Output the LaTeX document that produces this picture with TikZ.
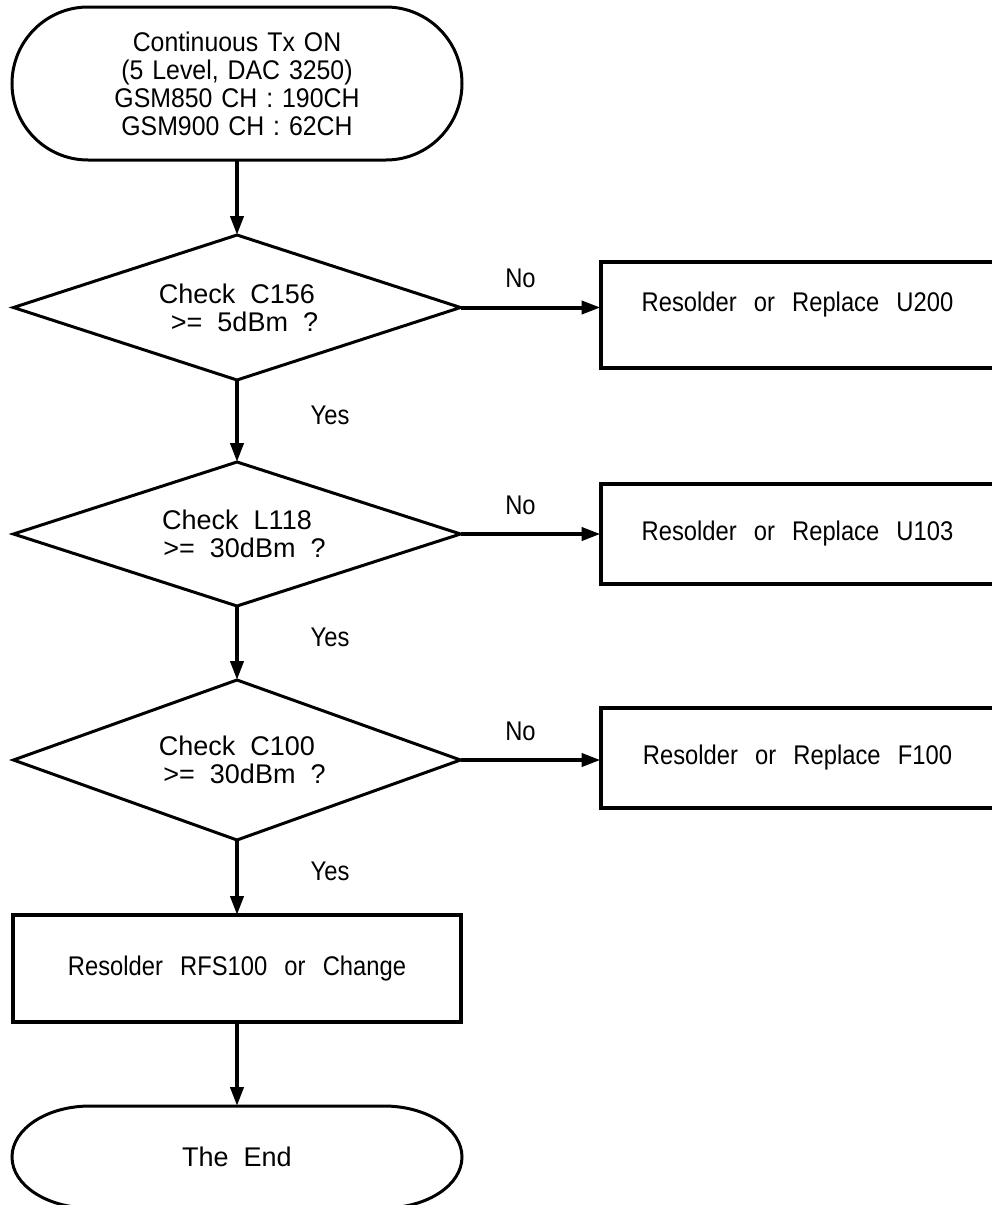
\documentclass[tikz,border=0pt]{standalone}
\usepackage{fontspec}
\setmainfont{Liberation Sans}[WordSpace=2]
\newfontfamily\startfont{Liberation Sans}[FakeStretch=0.92, WordSpace=1.3]
\newfontfamily\boxfont{Liberation Sans}[FakeStretch=0.88, WordSpace=2.6]
\usetikzlibrary{shapes.geometric, arrows.meta, positioning, calc}
\tikzset{
    term/.style={rectangle, minimum width=225pt, minimum height=76.5pt, inner sep=0pt, outer sep=0pt, align=center, font=\fontsize{13.5}{14}\selectfont},
    decision/.style={diamond, aspect=3, draw, line width=1.5pt, minimum width=223.5pt, minimum height=72.5pt, inner sep=0pt, outer sep=0pt, align=center, font=\fontsize{13.5}{14}\selectfont},
    box/.style={rectangle, draw, line width=2pt, minimum width=223.5pt, minimum height=53.5pt, outer sep=0pt, align=center, font=\boxfont\fontsize{13.5}{14}\selectfont},
    arrow/.style={line width=2pt, -{Triangle[length=9.5pt, width=6.5pt]}},
    lbl/.style={inner sep=0pt, font=\boxfont\fontsize{13.5}{14}\selectfont}
}
% outline of a terminator: node, x radius, y radius of the end caps
\newcommand{\termoutline}[3]{%
    \draw[line width=1.5pt] ([xshift=#2]#1.north west) -- ([xshift=-#2]#1.north east)
        arc[start angle=90, end angle=-90, x radius=#2, y radius=#3]
        -- ([xshift=#2]#1.south west)
        arc[start angle=270, end angle=90, x radius=#2, y radius=#3] -- cycle;}

\begin{document}
\begin{tikzpicture}
    \useasboundingbox (-118.5pt,41.75pt) rectangle (377pt,-560.75pt);

    \node (start) [term, font=\startfont\fontsize{13.5}{14}\selectfont] at (0,0) {Continuous Tx ON\\(5 Level, DAC 3250)\\GSM850 CH : 190CH\\GSM900 CH : 62CH};
    \node (d1) [decision, below=37.5pt of start] {Check C156\\\ >= 5dBm ?};
    \node (d2) [decision, minimum height=72pt, below=41pt of d1] {Check L118\\\ >= 30dBm ?};
    \node (d3) [decision, minimum height=80pt, below=37pt of d2] {Check C100\\\ >= 30dBm ?};
    \node (b4) [box, below=37.5pt of d3] {Resolder RFS100 or Change};
    \node (finish) [term, minimum height=51pt, below=42pt of b4] {The End};

    \node (b1) [box, minimum width=197pt, minimum height=53pt, text depth=13pt, right=70pt of d1, yshift=-3.75pt] {Resolder or Replace U200};
    \node (b2) [box, minimum width=197pt, minimum height=50pt, right=70pt of d2] {Resolder or Replace U103};
    \node (b3) [box, minimum width=197pt, minimum height=50pt, right=70pt of d3, yshift=1pt] {Resolder or Replace F100};

    \termoutline{start}{38pt}{38.25pt}
    \termoutline{finish}{39pt}{25.5pt}

    \draw [arrow] (start) -- (d1);
    \draw [arrow] (d1) -- node [lbl, xshift=46.5pt, yshift=3pt] {Yes} (d2);
    \draw [arrow] (d2) -- node [lbl, xshift=46.5pt, yshift=3pt] {Yes} (d3);
    \draw [arrow] (d3) -- node [lbl, xshift=46.5pt, yshift=3pt] {Yes} (b4);
    \draw [arrow] (b4) -- (finish);

    \draw [arrow] (d1.east) -- node [lbl, xshift=-5pt, yshift=14.5pt] {No} (d1.east -| b1.west);
    \draw [arrow] (d2.east) -- node [lbl, xshift=-5pt, yshift=14.5pt] {No} (d2.east -| b2.west);
    \draw [arrow] (d3.east) -- node [lbl, xshift=-5pt, yshift=14.5pt] {No} (d3.east -| b3.west);
\end{tikzpicture}
\end{document}
